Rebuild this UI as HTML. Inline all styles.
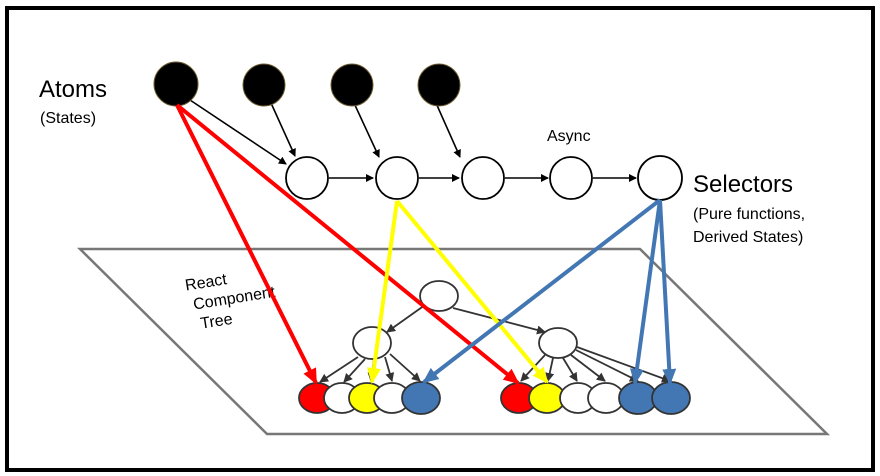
<!DOCTYPE html>
<html><head><style>
html,body{margin:0;padding:0;background:#fff;}
svg{display:block;}
text{font-family:"Liberation Sans",sans-serif;}
</style></head><body>
<svg width="880" height="476" viewBox="0 0 880 476" xmlns="http://www.w3.org/2000/svg">
<defs>
<marker id="ak" markerWidth="8" markerHeight="8" refX="7" refY="4" orient="auto" markerUnits="userSpaceOnUse"><path d="M0,0 L8,4 L0,8 z" fill="#000"/></marker>
<marker id="ad" markerWidth="9" markerHeight="9" refX="8" refY="4.5" orient="auto" markerUnits="userSpaceOnUse"><path d="M0,0 L9,4.5 L0,9 z" fill="#333"/></marker>
<marker id="ar" markerWidth="16" markerHeight="16" refX="14" refY="8" orient="auto" markerUnits="userSpaceOnUse"><path d="M0,1 L16,8 L0,15 z" fill="#f00"/></marker>
<marker id="ay" markerWidth="16" markerHeight="16" refX="14" refY="8" orient="auto" markerUnits="userSpaceOnUse"><path d="M0,1 L16,8 L0,15 z" fill="#ff0"/></marker>
<marker id="ab" markerWidth="16" markerHeight="16" refX="14" refY="8" orient="auto" markerUnits="userSpaceOnUse"><path d="M0,1 L16,8 L0,15 z" fill="#4277b4"/></marker>
</defs>
<rect x="7" y="8" width="866" height="462" fill="#fff" stroke="#000" stroke-width="4"/>
<polygon points="80,249 640,249 827,434 267,434" fill="none" stroke="#777" stroke-width="2.5"/>

<text x="39" y="97" font-size="24">Atoms</text>
<text x="40" y="123" font-size="16">(States)</text>
<text x="693" y="192" font-size="24">Selectors</text>
<text x="693" y="219" font-size="16">(Pure functions,</text>
<text x="693" y="242" font-size="16">Derived States)</text>
<text x="547" y="141" font-size="16">Async</text>
<g transform="rotate(-9 190 290)" font-size="16">
<text x="186" y="290">React</text>
<text x="191" y="310">Component</text>
<text x="195" y="330">Tree</text>
</g>

<g stroke="#000" stroke-width="1.6" fill="none" marker-end="url(#ak)">
<line x1="190" y1="100" x2="286" y2="164"/>
<line x1="271" y1="103" x2="295" y2="156"/>
<line x1="354" y1="103" x2="379" y2="157"/>
<line x1="436" y1="103" x2="460" y2="157"/>
<line x1="329" y1="178" x2="373" y2="178"/>
<line x1="419" y1="178" x2="459" y2="178"/>
<line x1="505" y1="178" x2="548" y2="178"/>
<line x1="593" y1="178" x2="636" y2="178"/>
</g>

<g stroke="#333" stroke-width="1.8" fill="none" marker-end="url(#ad)">
<line x1="425" y1="305" x2="387" y2="332"/>
<line x1="453" y1="308" x2="545" y2="332"/>
<line x1="358" y1="357" x2="320" y2="382"/>
<line x1="365" y1="359" x2="344" y2="382"/>
<line x1="374" y1="359" x2="371" y2="381"/>
<line x1="385" y1="357" x2="392" y2="381"/>
<line x1="390" y1="354" x2="420" y2="381"/>
<line x1="545" y1="355" x2="521" y2="381"/>
<line x1="553" y1="358" x2="548" y2="381"/>
<line x1="563" y1="358" x2="577" y2="381"/>
<line x1="571" y1="355" x2="605" y2="381"/>
<line x1="576" y1="350" x2="638" y2="381"/>
<line x1="577" y1="347" x2="670" y2="381"/>
</g>

<g fill="#000" stroke="#6b5a2e" stroke-width="1">
<circle cx="176" cy="84" r="22"/>
<circle cx="264" cy="85" r="21"/>
<circle cx="352" cy="85" r="21"/>
<circle cx="439" cy="85" r="21"/>
</g>
<g fill="#fff" stroke="#000" stroke-width="1.8">
<circle cx="307" cy="178" r="21"/>
<circle cx="397" cy="178" r="21"/>
<circle cx="483" cy="178" r="21"/>
<circle cx="571" cy="178" r="21"/>
<circle cx="660" cy="178" r="22"/>
</g>
<g stroke="#333" stroke-width="1.8">
<ellipse cx="439" cy="296" rx="19" ry="15" fill="#fff"/>
<ellipse cx="372" cy="343" rx="19" ry="16" fill="#fff"/>
<ellipse cx="558" cy="343" rx="19" ry="15" fill="#fff"/>
<ellipse cx="317" cy="398" rx="18" ry="15" fill="#f00"/>
<ellipse cx="342" cy="398" rx="18" ry="15" fill="#fff"/>
<ellipse cx="367" cy="398" rx="18" ry="15" fill="#ff0"/>
<ellipse cx="392" cy="398" rx="18" ry="15" fill="#fff"/>
<ellipse cx="421" cy="398" rx="19" ry="16" fill="#4277b4"/>
<ellipse cx="519" cy="398" rx="18" ry="15" fill="#f00"/>
<ellipse cx="547" cy="398" rx="18" ry="15" fill="#ff0"/>
<ellipse cx="578" cy="398" rx="18" ry="15" fill="#fff"/>
<ellipse cx="606" cy="398" rx="18" ry="15" fill="#fff"/>
<ellipse cx="638" cy="398" rx="19" ry="16" fill="#4277b4"/>
<ellipse cx="671" cy="398" rx="19" ry="16" fill="#4277b4"/>
</g>

<g stroke-width="4" fill="none">
<line x1="177" y1="105" x2="316" y2="383" stroke="#f00" marker-end="url(#ar)"/>
<line x1="177" y1="105" x2="518" y2="383" stroke="#f00" marker-end="url(#ar)"/>
<line x1="397" y1="201" x2="372" y2="382" stroke="#ff0" marker-end="url(#ay)"/>
<line x1="397" y1="201" x2="547" y2="382" stroke="#ff0" marker-end="url(#ay)"/>
<line x1="660" y1="200" x2="424" y2="382" stroke="#4277b4" marker-end="url(#ab)"/>
<line x1="660" y1="200" x2="635" y2="383" stroke="#4277b4" marker-end="url(#ab)"/>
<line x1="660" y1="200" x2="670" y2="383" stroke="#4277b4" marker-end="url(#ab)"/>
</g>
</svg>
</body></html>
